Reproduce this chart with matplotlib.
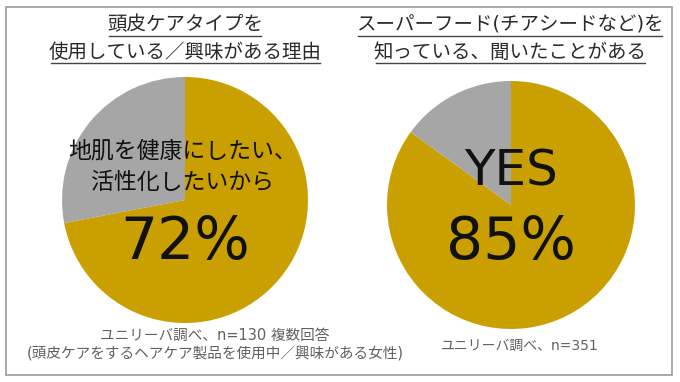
import matplotlib
matplotlib.use("Agg")
import matplotlib.pyplot as plt
from matplotlib.patches import Rectangle
from matplotlib.lines import Line2D

plt.rcParams['font.family'] = ['DejaVu Sans', 'Noto Sans CJK JP']

# data
titles = ["頭皮ケアタイプを\n使用している／興味がある理由",
          "スーパーフード(チアシードなど)を\n知っている、聞いたことがある"]
labels = ["地肌を健康にしたい、\n活性化したいから", "YES"]
values = [72, 85]
notes = ["ユニリーバ調べ、n=130 複数回答\n(頭皮ケアをするヘアケア製品を使用中／興味がある女性)",
         "ユニリーバ調べ、n=351"]

gold = "#C9A000"
grey = "#A6A6A6"

W, H = 680, 382
fig = plt.figure(figsize=(W / 100, H / 100), dpi=100)
ax = fig.add_axes([0, 0, 1, 1])

# pixel layout (y measured from top)
centers = [(185, 200), (511, 205)]
radius = [123, 124]

for i in range(2):
    cx, cy = centers[i]
    ax.pie([values[i], 100 - values[i]], colors=[gold, grey],
           startangle=90, counterclock=False, center=(cx, H - cy),
           radius=radius[i], frame=True,
           wedgeprops=dict(linewidth=0))

ax.set_xlim(0, W)
ax.set_ylim(0, H)
ax.set_aspect('equal')
ax.axis('off')

# labels inside the pies
ax.text(183, H - 167, labels[0], ha='center', va='center', fontsize=16.5,
        linespacing=1.45, color='#111111')
ax.text(185, H - 242, f"{values[0]}%", ha='center', va='center', fontsize=42,
        color='#111111')
ax.text(511, H - 172, labels[1], ha='center', va='center', fontsize=36,
        color='#111111')
ax.text(511, H - 242, f"{values[1]}%", ha='center', va='center', fontsize=42,
        color='#111111')

# titles (underlined)
title_x = [185, 510]
title_objs = []
for i in range(2):
    for j, line in enumerate(titles[i].split("\n")):
        t = ax.text(title_x[i], H - (25 + 27 * j), line, ha='center',
                    va='center', fontsize=14, color='#2a2a2a')
        title_objs.append(t)

# footnotes
ax.text(215, H - 345, notes[0], ha='center', va='center', fontsize=10.5,
        linespacing=1.3, color='#606060')
ax.text(520, H - 346, notes[1], ha='center', va='center', fontsize=10,
        color='#606060')

fig.canvas.draw()
r = fig.canvas.get_renderer()
for t in title_objs:
    bb = t.get_window_extent(r)
    y = bb.y0 - 1
    fig.add_artist(Line2D([(bb.x0 + 2) / W, (bb.x1 - 2) / W], [y / H, y / H],
                          transform=fig.transFigure, color='#444444', lw=1))

# frame around the whole picture
fig.add_artist(Rectangle((6 / W, 7 / H), 666 / W, 368 / H,
                         transform=fig.transFigure, fill=False,
                         edgecolor='#9a9a9a', lw=1.2))

fig.savefig("out.png", dpi=100)
